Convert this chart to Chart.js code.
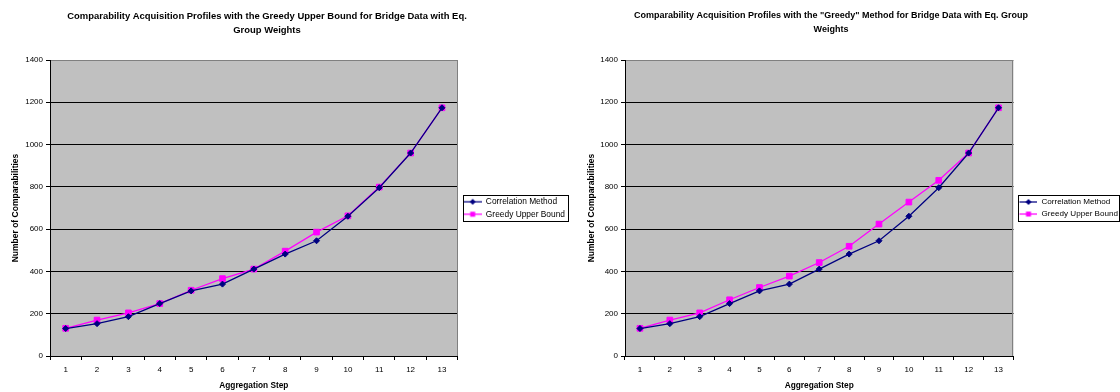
<!DOCTYPE html>
<html>
<head>
<meta charset="utf-8">
<script src="https://cdn.jsdelivr.net/npm/chart.js@4.4.0/dist/chart.umd.min.js"></script>
<style>
  html, body { margin: 0; padding: 0; background: #fff; width: 1120px; height: 392px; overflow: hidden; position: relative; }
  .panel { position: absolute; top: 0; height: 392px; }
  #panelUpper { left: -41px; width: 616px; }
  #panelGreedy { left: 534px; width: 594px; }
  canvas { display: block; }
</style>
</head>
<body>
<div class="panel" id="panelUpper"><canvas id="chartUpper" width="616" height="392"></canvas></div>
<div class="panel" id="panelGreedy"><canvas id="chartGreedy" width="594" height="392"></canvas></div>
<script>
// Aggregation steps on the x axis
const steps = ['1', '2', '3', '4', '5', '6', '7', '8', '9', '10', '11', '12', '13'];

// Number of comparabilities acquired after each aggregation step
const correlationMethod = [130, 153, 186, 248, 308, 340, 411, 482, 545, 661, 796, 960, 1174];
const greedyUpperBound  = [131, 170, 204, 248, 311, 366, 411, 496, 586, 663, 799, 960, 1174];
const greedyMethod      = [131, 170, 204, 266, 324, 378, 442, 519, 624, 728, 831, 960, 1174];

// Value axis
const yMin = 0;
const yMax = 1400;
const yStep = 200;

const titleUpper = ['Comparability Acquisition Profiles with the Greedy Upper Bound for Bridge Data with Eq.', 'Group Weights'];
const titleGreedy = ['Comparability Acquisition Profiles with the "Greedy" Method for Bridge Data with Eq. Group', 'Weights'];

const NAVY = '#000080';
const MAGENTA = '#FF00FF';

Chart.defaults.font.family = '"Liberation Sans", Arial, Helvetica, sans-serif';
Chart.defaults.color = '#000';

// Small line-and-marker swatches for the legend
function swatch(color, shape) {
  const c = document.createElement('canvas');
  c.width = 20; c.height = 8;
  const g = c.getContext('2d');
  g.strokeStyle = color; g.fillStyle = color; g.lineWidth = 1.25;
  g.beginPath(); g.moveTo(2, 4); g.lineTo(20, 4); g.stroke();
  g.beginPath();
  if (shape === 'diamond') {
    g.moveTo(11, 1); g.lineTo(14, 4); g.lineTo(11, 7); g.lineTo(8, 4); g.closePath();
  } else {
    g.rect(8.5, 1.5, 5, 5);
  }
  g.fill();
  return c;
}
const swatches = [swatch(NAVY, 'diamond'), swatch(MAGENTA, 'square')];

// Silver plot background and grey right-hand frame edge
const plotFrame = {
  id: 'plotFrame',
  beforeDraw(chart) {
    const { ctx, chartArea: a } = chart;
    ctx.save();
    ctx.fillStyle = '#C0C0C0';
    ctx.fillRect(a.left, a.top, a.right - a.left, a.bottom - a.top);
    ctx.restore();
  },
  beforeDatasetsDraw(chart) {
    const { ctx, chartArea: a } = chart;
    ctx.save();
    ctx.strokeStyle = '#808080';
    ctx.lineWidth = 1;
    const x = Math.round(a.right) - 0.5;
    ctx.beginPath(); ctx.moveTo(x, a.top); ctx.lineTo(x, a.bottom); ctx.stroke();
    ctx.restore();
  }
};

// Black frame round the legend entries
const legendFrame = {
  id: 'legendFrame',
  afterDraw(chart, args, opts) {
    const boxes = chart.legend && chart.legend.legendHitBoxes;
    if (!boxes || !boxes.length) return;
    let l = Infinity, t = Infinity, r = -Infinity, b = -Infinity;
    boxes.forEach(h => {
      l = Math.min(l, h.left); t = Math.min(t, h.top);
      r = Math.max(r, h.left + h.width); b = Math.max(b, h.top + h.height);
    });
    const ctx = chart.ctx;
    ctx.save();
    ctx.strokeStyle = '#000';
    ctx.lineWidth = 1;
    const x0 = Math.round(l + 1) + 0.5, y0 = Math.round(t - 3) + 0.5;
    const x1 = Math.round(r + (opts.marginRight || 2)) - 0.5, y1 = Math.round(b + 3) + 0.5;
    ctx.strokeRect(x0, y0, x1 - x0, y1 - y0);
    ctx.restore();
  }
};

function makeChart(canvasId, title, titleSize, secondLabel, secondData, yTitlePad, legendFont, frameMargin) {
  return new Chart(document.getElementById(canvasId), {
    type: 'line',
    data: {
      labels: steps,
      datasets: [
        {
          label: 'Correlation Method',
          data: correlationMethod,
          borderColor: NAVY,
          backgroundColor: NAVY,
          borderWidth: 1.25,
          pointStyle: 'rectRot',
          pointRadius: 3,
          pointBorderWidth: 1,
          tension: 0,
          fill: false
        },
        {
          label: secondLabel,
          data: secondData,
          borderColor: MAGENTA,
          backgroundColor: MAGENTA,
          borderWidth: 1.25,
          pointStyle: 'rect',
          pointRadius: 4,
          pointBorderWidth: 1,
          tension: 0,
          fill: false
        }
      ]
    },
    options: {
      responsive: false,
      animation: false,
      devicePixelRatio: 1,
      layout: { padding: { left: 0, right: 0, top: 0, bottom: 1 } },
      plugins: {
        tooltip: { enabled: false },
        legendFrame: { marginRight: frameMargin },
        title: {
          display: true,
          text: title,
          color: '#000',
          font: { size: titleSize, weight: 'bold', lineHeight: '14px' },
          padding: { top: 9, bottom: 23 }
        },
        legend: {
          display: true,
          position: 'right',
          align: 'center',
          fullSize: false,
          labels: {
            usePointStyle: true,
            pointStyleWidth: 20,
            padding: 4,
            color: '#000',
            font: { size: legendFont },
            generateLabels(chart) {
              return chart.data.datasets.map((ds, i) => ({
                text: ds.label,
                pointStyle: swatches[i],
                fillStyle: ds.borderColor,
                strokeStyle: ds.borderColor,
                lineWidth: 0,
                hidden: false,
                datasetIndex: i,
                fontColor: '#000'
              }));
            }
          }
        }
      },
      scales: {
        x: {
          type: 'category',
          offset: true,
          afterFit(scale) { scale.height = 35; },
          grid: { display: true, offset: true, drawOnChartArea: false, drawTicks: true, tickLength: 4, color: '#000' },
          border: { display: true, color: '#000', width: 1 },
          ticks: { font: { size: 8 }, padding: 5, maxRotation: 0, autoSkip: false, color: '#000' },
          title: { display: true, text: 'Aggregation Step', color: '#000', font: { size: 8.3, weight: 'bold' }, padding: { top: 2, bottom: 0 } }
        },
        y: {
          min: yMin,
          max: yMax,
          afterFit(scale) { scale.width = 91; },
          grid: {
            color: ctx => (ctx.tick && ctx.tick.value === yMax ? '#808080' : '#000'),
            tickColor: '#000',
            tickLength: 4,
            lineWidth: 1
          },
          border: { display: true, color: '#000', width: 1 },
          ticks: { stepSize: yStep, font: { size: 8 }, padding: 3, color: '#000', callback: v => String(v) },
          title: { display: true, text: 'Number of Comparabilities', color: '#000', font: { size: 8.5, weight: 'bold' }, padding: { top: yTitlePad, bottom: 0 } }
        }
      }
    },
    plugins: [plotFrame, legendFrame]
  });
}

makeChart('chartUpper', titleUpper, 9.45, 'Greedy Upper Bound', greedyUpperBound, 52, 8.4, 4);
makeChart('chartGreedy', titleGreedy, 9, 'Greedy Upper Bound', greedyMethod, 53, 8.1, 1.5);
</script>
</body>
</html>
